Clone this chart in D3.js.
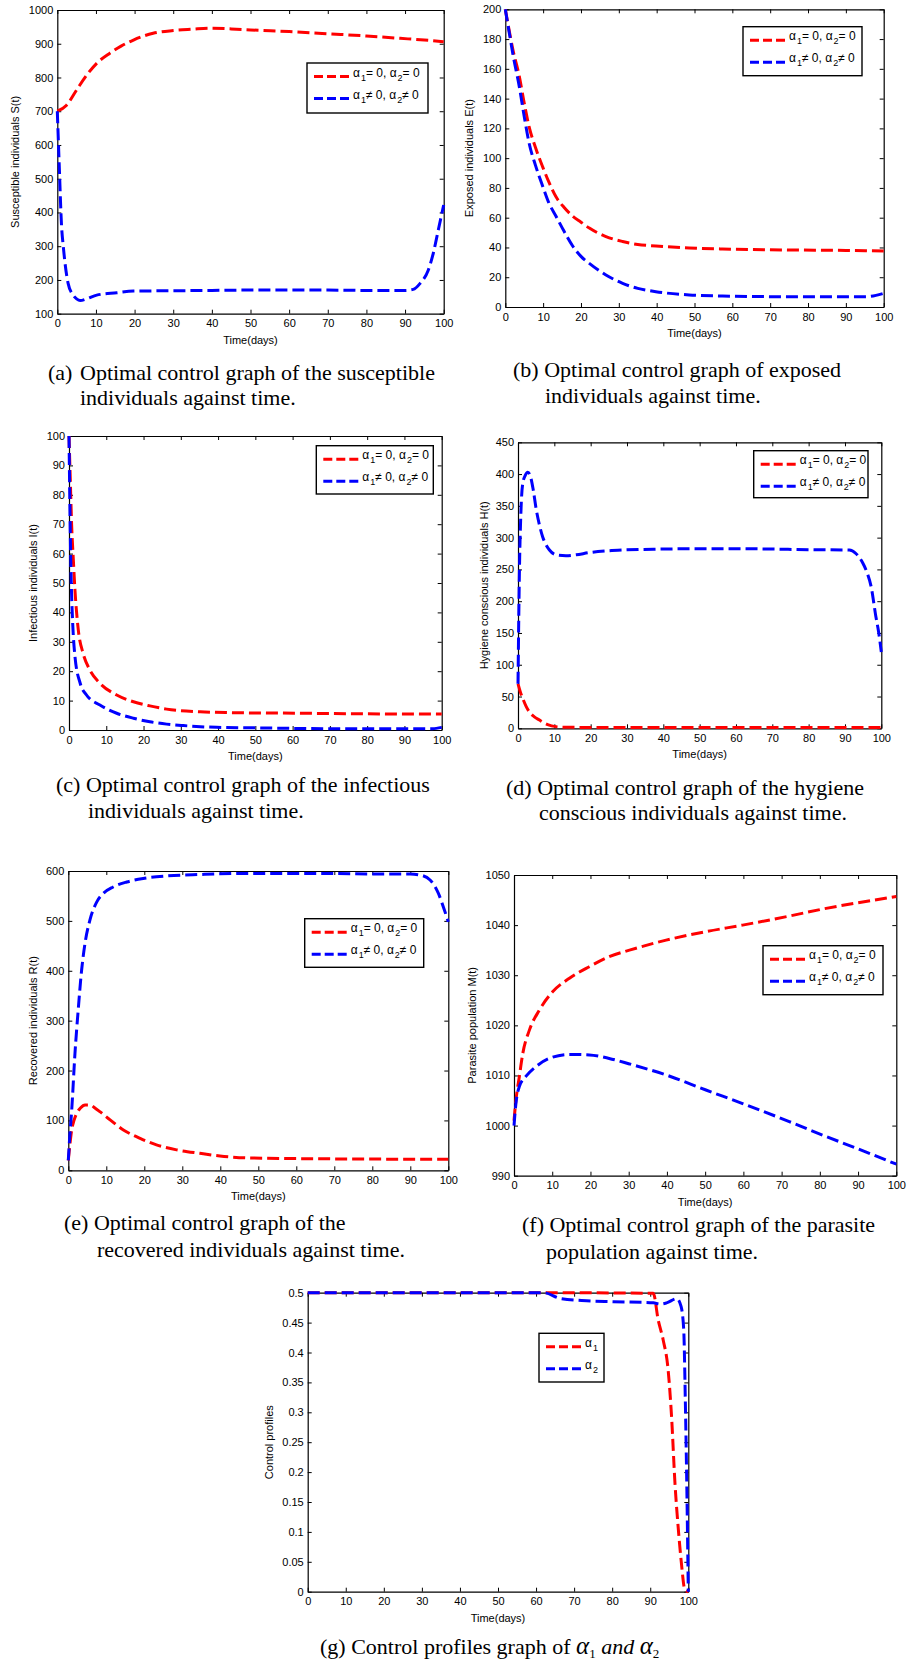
<!DOCTYPE html>
<html>
<head>
<meta charset="utf-8">
<script src="https://cdn.jsdelivr.net/npm/d3@7"></script>
<style>
	body { margin: 0; background: #fff; }
	svg { display: block; }
	.tick text { font-family: "Liberation Sans", Arial, sans-serif; font-size: 11px; fill: #000; }
	.caption { font-family: "Liberation Serif", "Times New Roman", serif; font-size: 22px; fill: #000; }
</style>
</head>
<body>
<svg id="chart" width="916" height="1665"></svg>
<script>
// ---- data ----
const timeTicks = [0, 10, 20, 30, 40, 50, 60, 70, 80, 90, 100];

const susceptibleNoControl = [[0,700],[2.4,718],[5,763],[7.6,807],[10.2,842],[13.6,872],[16.5,893],[19.7,911],[24.8,931],[30,939],[35,943],[39.5,946],[45,944],[50,941],[60,936],[71,929],[80,923],[88.7,916],[95,911],[100,906]];
const susceptibleControl = [[0,700],[0.5,540],[1.1,360],[1.55,299],[2.8,190],[4.1,155],[5,144],[5.9,139],[7.6,144],[10.2,155],[15.4,162],[19.7,167],[30,168],[40,169],[50,170],[60,170],[70,170],[80,169],[90,169],[92.1,172],[93.9,190],[96,229],[97.3,279],[98.6,348],[100,422]];

const exposedNoControl = [[0,200],[1,186],[2,173],[3.7,155],[5,137],[6.3,121],[8,107],[9.9,94],[11.5,84],[13.4,74],[15.5,67],[17.8,61],[20,57],[22.2,53],[26.6,47.3],[31,44],[35,42],[39.8,41],[48.6,39.6],[57.4,39],[75,38.3],[90,38],[100,37.6]];
const exposedControl = [[0,200],[1,185],[2,170],[3.7,148],[5,128],[6.3,110],[8,95],[9.9,81],[11.5,70],[13.4,61],[15.5,51],[17.8,41],[20,34],[22.2,29.3],[26.6,21.5],[31,15.9],[35,12.5],[39.8,10.3],[48.6,8.1],[57.4,7.4],[75,6.9],[90,6.9],[95.3,6.9],[100,9.2]];

const infectiousNoControl = [[0,100],[0.35,85],[0.7,70],[1.2,57],[1.6,47.6],[2.5,34],[3.8,26],[5.6,20.4],[8.3,15.9],[12.8,11.9],[17.3,9.6],[21.7,8.2],[26.2,7.1],[35.2,6.2],[44,5.9],[62,5.7],[80,5.5],[100,5.4]];
const infectiousControl = [[0,100],[0.2,80],[0.45,59],[0.7,46],[1,36],[1.6,25],[3,15.9],[4.7,11.9],[8.3,8.5],[12.8,5.7],[17.3,4],[21.7,2.8],[26.2,2],[30.7,1.5],[39.6,0.9],[52,0.7],[70,0.45],[97.5,0.45],[100,0.9]];

const hygieneNoControl = [[0,70],[0.6,58],[1.3,47],[2.2,35],[3.1,26],[4.5,18],[5.9,13],[7.2,8.5],[8.6,5],[10,3],[11.4,2],[15,1.5],[30,1.2],[100,1.2]];
const hygieneControl = [[0,70],[0.4,250],[0.8,340],[1.3,385],[2,398],[2.7,403],[3.5,395],[4.2,375],[5,345],[5.9,320],[6.8,301],[7.7,289],[8.6,281],[10.5,273],[13.2,271.6],[16,273],[19.6,276.4],[24.2,279],[28.8,280.5],[39.8,282],[50,282.6],[60,282.6],[70,282],[80,281],[91.2,280.5],[93,275],[94.9,260],[96.2,243],[97.2,223],[98.5,176],[99.3,150],[100,120]];

const recoveredNoControl = [[0,20],[0.4,50],[0.9,81],[1.5,100],[2.2,114],[3.2,125],[4.4,131],[5.7,131],[7,125],[8.3,117.6],[11,101],[14.5,81],[18.9,64],[23.2,51],[28.5,41],[34.6,34],[39.9,28.7],[47.8,24.7],[61,23.4],[80,22.5],[100,22]];
const recoveredControl = [[0,20],[0.4,70],[0.9,121],[1.75,234],[2.6,321],[3.5,401],[4.4,455],[5.7,502],[7.5,538],[9.2,555],[11.8,568],[15.4,578],[19.7,585],[25.9,590],[34.6,593],[45,595],[70,595],[80,594],[90,594],[92.5,592],[95.2,582],[97.4,555],[98.7,528],[100,498]];

const parasiteNoControl = [[0,1001],[0.5,1005],[1.4,1009.8],[2.3,1014.4],[4,1019],[6.6,1023],[10.1,1026.7],[14.5,1029.4],[19.7,1031.7],[24.9,1033.7],[30.2,1035],[39.8,1037],[50.2,1038.7],[59.8,1040],[72,1041.8],[80.7,1043.2],[89.5,1044.4],[100,1045.7]];
const parasiteControl = [[0,1000],[0.5,1004.4],[1.4,1007.8],[3.1,1009.8],[5.8,1011.8],[9.2,1013.4],[14.5,1014.2],[19.7,1014.1],[24.9,1013.4],[30.2,1012.3],[39.8,1010.1],[50.2,1007.1],[59.8,1004.4],[72,1000.8],[80.7,998.1],[89.5,995.5],[100,992.3]];

const alpha1Profile = [[0,0.5],[30,0.5],[60,0.5],[90.8,0.499],[92.1,0.454],[93.4,0.421],[94.7,0.371],[95.6,0.293],[96.5,0.181],[97.4,0.103],[98.2,0.047],[99.1,0.003],[100,0]];
const alpha2Profile = [[0,0.5],[62,0.5],[66.3,0.4905],[73.3,0.4866],[80.3,0.485],[90.8,0.483],[92.6,0.481],[94.3,0.483],[97,0.49],[98.1,0.477],[98.8,0.438],[99.2,0.326],[99.65,0.159],[100,0]];

const yTicksS = [100, 200, 300, 400, 500, 600, 700, 800, 900, 1000];
const yTicksE = [0, 20, 40, 60, 80, 100, 120, 140, 160, 180, 200];
const yTicksI = [0, 10, 20, 30, 40, 50, 60, 70, 80, 90, 100];
const yTicksH = [0, 50, 100, 150, 200, 250, 300, 350, 400, 450];
const yTicksR = [0, 100, 200, 300, 400, 500, 600];
const yTicksM = [990, 1000, 1010, 1020, 1030, 1040, 1050];
const yTicksC = [0, 0.05, 0.1, 0.15, 0.2, 0.25, 0.3, 0.35, 0.4, 0.45, 0.5];
const yTickLabelsC = ["0", "0.05", "0.1", "0.15", "0.2", "0.25", "0.3", "0.35", "0.4", "0.45", "0.5"];

const RED = "#ff0000";
const BLUE = "#0000ff";

const svg = d3.select("#chart");

const panels = [
	{
		left: 57.3, right: 443.7, top: 10, bottom: 313.7, yDomain: [100, 1000], yTicks: yTicksS,
		yLabel: "Susceptible individuals S(t)", yLabelX: 15,
		series: [susceptibleNoControl, susceptibleControl],
		legend: { x0: 307, y0: 63, x1: 428, y1: 113 },
	},
	{
		left: 505.3, right: 883.7, top: 9.3, bottom: 307, yDomain: [0, 200], yTicks: yTicksE,
		yLabel: "Exposed individuals E(t)", yLabelX: 469,
		series: [exposedNoControl, exposedControl],
		legend: { x0: 743, y0: 26.7, x1: 862, y1: 75.7 },
	},
	{
		left: 69, right: 441.7, top: 436, bottom: 730, yDomain: [0, 100], yTicks: yTicksI,
		yLabel: "Infectious individuals I(t)", yLabelX: 33,
		series: [infectiousNoControl, infectiousControl],
		legend: { x0: 316.3, y0: 445.7, x1: 433.3, y1: 494 },
	},
	{
		left: 518, right: 881.3, top: 442.3, bottom: 728.3, yDomain: [0, 450], yTicks: yTicksH,
		yLabel: "Hygiene conscious individuals H(t)", yLabelX: 484,
		series: [hygieneNoControl, hygieneControl],
		legend: { x0: 753.7, y0: 450.7, x1: 868, y1: 497.7 },
	},
	{
		left: 68.3, right: 448.3, top: 871, bottom: 1170.3, yDomain: [0, 600], yTicks: yTicksR,
		yLabel: "Recovered individuals R(t)", yLabelX: 33,
		series: [recoveredNoControl, recoveredControl],
		legend: { x0: 304.7, y0: 918.7, x1: 423.7, y1: 967.3 },
	},
	{
		left: 514, right: 896.3, top: 875, bottom: 1175.7, yDomain: [990, 1050], yTicks: yTicksM,
		yLabel: "Parasite population M(t)", yLabelX: 472,
		series: [parasiteNoControl, parasiteControl],
		legend: { x0: 763, y0: 945.7, x1: 883, y1: 994.7 },
	},
	{
		left: 307.7, right: 688.3, top: 1292.7, bottom: 1591.7, yDomain: [0, 0.5], yTicks: yTicksC,
		yTickLabels: yTickLabelsC,
		yLabel: "Control profiles", yLabelX: 269,
		series: [alpha1Profile, alpha2Profile],
		legend: { x0: 539, y0: 1333.3, x1: 604, y1: 1382 },
		controlLegend: true,
	},
];

// legend text pieces: [text, isSubscript]
const legendNoControl = [["\u03b1", false], ["1", true], ["= 0, \u03b1", false], ["2", true], ["= 0", false]];
const legendControl = [["\u03b1", false], ["1", true], ["\u2260 0, \u03b1", false], ["2", true], ["\u2260 0", false]];
const legendAlpha1 = [["\u03b1", false], ["1", true]];
const legendAlpha2 = [["\u03b1", false], ["2", true]];

function drawPanel(p) {
	const x = d3.scaleLinear().domain([0, 100]).range([p.left, p.right]);
	const y = d3.scaleLinear().domain(p.yDomain).range([p.bottom, p.top]);
	const g = svg.append("g");

	// axes: ticks point inward on all four sides (box on)
	g.append("g")
		.attr("transform", `translate(0,${p.bottom})`)
		.call(d3.axisBottom(x).tickValues(timeTicks).tickSizeInner(-4).tickSizeOuter(0).tickPadding(6));
	g.append("g")
		.attr("transform", `translate(0,${p.top})`)
		.call(d3.axisTop(x).tickValues(timeTicks).tickSizeInner(-4).tickSizeOuter(0).tickFormat(""));
	g.append("g")
		.attr("transform", `translate(${p.left},0)`)
		.call(
			d3.axisLeft(y)
				.tickValues(p.yTicks)
				.tickSizeInner(-4)
				.tickSizeOuter(0)
				.tickPadding(4)
				.tickFormat((d, i) => (p.yTickLabels ? p.yTickLabels[i] : d))
		);
	g.append("g")
		.attr("transform", `translate(${p.right},0)`)
		.call(d3.axisRight(y).tickValues(p.yTicks).tickSizeInner(-4).tickSizeOuter(0).tickFormat(""));
	g.selectAll(".domain").attr("stroke", "#000").attr("stroke-width", 1.2);
	g.selectAll(".tick line").attr("stroke", "#000");

	// axis titles
	g.append("text")
		.attr("x", (p.left + p.right) / 2)
		.attr("y", p.bottom + 30)
		.attr("text-anchor", "middle")
		.attr("font-family", "Liberation Sans, Arial, sans-serif")
		.attr("font-size", "11px")
		.text("Time(days)");
	g.append("text")
		.attr("transform", `translate(${p.yLabelX + 4},${(p.top + p.bottom) / 2}) rotate(-90)`)
		.attr("text-anchor", "middle")
		.attr("font-family", "Liberation Sans, Arial, sans-serif")
		.attr("font-size", "11px")
		.text(p.yLabel);

	// curves
	const line = d3
		.line()
		.x((d) => x(d[0]))
		.y((d) => y(d[1]))
		.curve(d3.curveMonotoneX);
	[RED, BLUE].forEach((color, i) => {
		g.append("path")
			.attr("d", line(p.series[i]))
			.attr("fill", "none")
			.attr("stroke", color)
			.attr("stroke-width", 3)
			.attr("stroke-dasharray", "12,5");
	});

	// legend
	const lg = p.legend;
	g.append("rect")
		.attr("x", lg.x0)
		.attr("y", lg.y0)
		.attr("width", lg.x1 - lg.x0)
		.attr("height", lg.y1 - lg.y0)
		.attr("fill", "#fff")
		.attr("stroke", "#000")
		.attr("stroke-width", 1.4);
	const rows = p.controlLegend ? [legendAlpha1, legendAlpha2] : [legendNoControl, legendControl];
	const rowY = [lg.y0 + 13.5, lg.y0 + 35.5];
	[RED, BLUE].forEach((color, i) => {
		g.append("line")
			.attr("x1", lg.x0 + 7)
			.attr("x2", lg.x0 + 42)
			.attr("y1", rowY[i])
			.attr("y2", rowY[i])
			.attr("stroke", color)
			.attr("stroke-width", 3)
			.attr("stroke-dasharray", "9,4");
		const t = g
			.append("text")
			.attr("x", lg.x0 + 46)
			.attr("y", rowY[i] + 4)
			.attr("font-family", "Liberation Sans, Arial, sans-serif")
			.attr("font-size", "12px");
		rows[i].forEach(([txt, sub]) => {
			if (sub) {
				t.append("tspan").attr("dx", 1).attr("dy", 4).attr("font-size", "9px").text(txt);
			} else {
				t.append("tspan").attr("dy", t.selectAll("tspan").size() ? -4 : 0).text(txt);
			}
		});
	});
}

panels.forEach(drawPanel);

// captions
const captions = [
	{ x: 48, y: 380, text: "(a)" },
	{ x: 80, y: 380, text: "Optimal control graph of the susceptible" },
	{ x: 80, y: 405, text: "individuals against time." },
	{ x: 513, y: 377, text: "(b) Optimal control graph of exposed" },
	{ x: 545, y: 403, text: "individuals against time." },
	{ x: 56, y: 792, text: "(c) Optimal control graph of the infectious" },
	{ x: 88, y: 818, text: "individuals against time." },
	{ x: 506, y: 795, text: "(d) Optimal control graph of the hygiene" },
	{ x: 539, y: 820, text: "conscious individuals against time." },
	{ x: 64, y: 1230, text: "(e) Optimal control graph of the" },
	{ x: 97, y: 1257, text: "recovered individuals against time." },
	{ x: 522, y: 1232, text: "(f) Optimal control graph of the parasite" },
	{ x: 546, y: 1259, text: "population against time." },
];
captions.forEach((c) => {
	svg.append("text").attr("class", "caption").attr("x", c.x).attr("y", c.y).text(c.text);
});

const capG = svg.append("text").attr("class", "caption").attr("x", 320).attr("y", 1654);
capG.append("tspan").text("(g) Control profiles graph of ");
capG.append("tspan").attr("font-style", "italic").attr("font-size", "25px").text("\u03b1");
capG.append("tspan").attr("font-size", "13px").attr("dy", 4).text("1");
capG.append("tspan").attr("font-style", "italic").attr("dy", -4).text(" and ");
capG.append("tspan").attr("font-style", "italic").attr("font-size", "25px").text("\u03b1");
capG.append("tspan").attr("font-size", "13px").attr("dy", 4).text("2");
</script>
</body>
</html>
